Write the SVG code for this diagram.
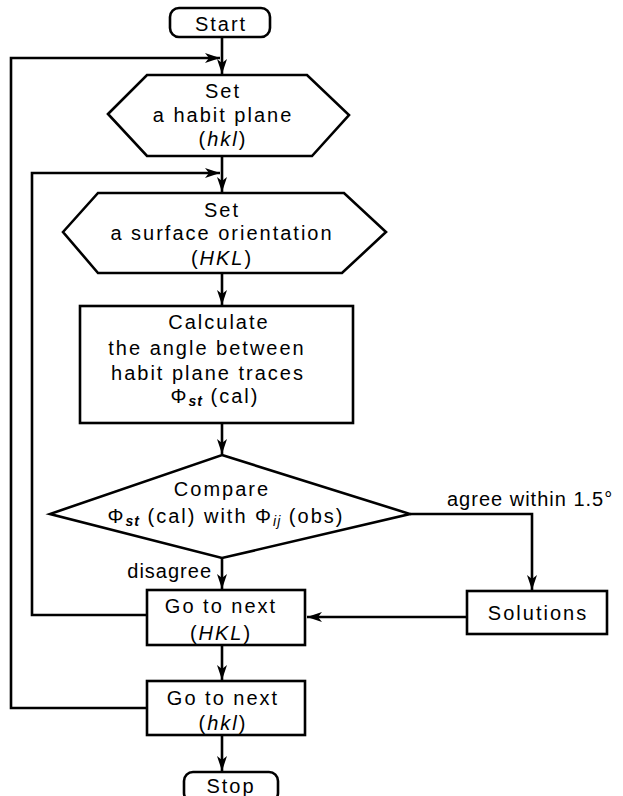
<svg xmlns="http://www.w3.org/2000/svg" width="623" height="796" viewBox="0 0 623 796">
<defs>
<style>
.s{fill:none;stroke:#000;stroke-width:2.6;stroke-linejoin:miter}
.n{fill:#fff;stroke:#000;stroke-width:2.6}
text{font-family:"Liberation Sans",Arial,sans-serif;font-size:20px;fill:#000;letter-spacing:2px;text-anchor:middle}
.i{font-style:italic}
.sub{font-size:14px;font-style:italic;font-weight:bold;letter-spacing:1px}
.subi{font-size:14px;font-style:italic;letter-spacing:1px}
.l{text-anchor:start;letter-spacing:1px}
.e{text-anchor:end;letter-spacing:1px}
</style>
<marker id="a" markerUnits="userSpaceOnUse" markerWidth="16" markerHeight="12" refX="15" refY="5" orient="auto" viewBox="0 0 16 10">
<path d="M0,0 L15,5 L0,10 L4,5 Z" fill="#000"/>
</marker>
</defs>
<rect width="623" height="796" fill="#fff"/>
<g id="connectors">
<path class="s" d="M222,37 V74" marker-end="url(#a)"/>
<path class="s" d="M222,157 V192" marker-end="url(#a)"/>
<path class="s" d="M222,273 V305" marker-end="url(#a)"/>
<path class="s" d="M222,423 V454" marker-end="url(#a)"/>
<path class="s" d="M222,558 V589" marker-end="url(#a)"/>
<path class="s" d="M222,645 V680" marker-end="url(#a)"/>
<path class="s" d="M222,735 V771" marker-end="url(#a)"/>
<path class="s" d="M410,514 H532 V590" marker-end="url(#a)"/>
<path class="s" d="M467,617 H307" marker-end="url(#a)"/>
<path class="s" d="M147,615 H32 V173 H220" marker-end="url(#a)"/>
<path class="s" d="M147,708 H11 V58 H220" marker-end="url(#a)"/>
<text class="l" x="447" y="506">agree within 1.5°</text>
<text class="e" x="212" y="578">disagree</text>
</g>
<g id="start">
<rect class="n" x="170" y="8" width="100" height="29" rx="9"/>
<text x="221" y="31">Start</text>
</g>
<g id="set-habit-plane">
<polygon class="n" points="108,114 147,75 307,75 349,115 312,156 147,156"/>
<text x="223" y="98">Set</text>
<text x="223" y="122">a habit plane</text>
<text x="223" y="146">(<tspan class="i">hkl</tspan>)</text>
</g>
<g id="set-surface-orientation">
<polygon class="n" points="63,232 98,193 344,193 386,232 342,273 98,273"/>
<text x="222" y="217">Set</text>
<text x="222" y="240">a surface orientation</text>
<text x="222" y="265">(<tspan class="i">HKL</tspan>)</text>
</g>
<g id="calculate">
<rect class="n" x="80" y="306" width="273" height="117"/>
<text x="219" y="329">Calculate</text>
<text x="207" y="355">the angle between</text>
<text x="208" y="380">habit plane traces</text>
<text x="215" y="403">Φ<tspan class="sub" dy="3">st</tspan><tspan dy="-3"> (cal)</tspan></text>
</g>
<g id="compare">
<polygon class="n" points="222,455 410,514 222,558 50,514"/>
<text x="222" y="496">Compare</text>
<text x="226" y="523">Φ<tspan class="sub" dy="3">st</tspan><tspan dy="-3"> (cal) with Φ</tspan><tspan class="subi" dy="3">ij</tspan><tspan dy="-3"> (obs)</tspan></text>
</g>
<g id="next-HKL">
<rect class="n" x="147" y="590" width="158" height="55"/>
<text x="221" y="613">Go to next</text>
<text x="221" y="640">(<tspan class="i">HKL</tspan>)</text>
</g>
<g id="solutions">
<rect class="n" x="467" y="591" width="140" height="43"/>
<text x="538" y="620">Solutions</text>
</g>
<g id="next-hkl">
<rect class="n" x="147" y="681" width="158" height="54"/>
<text x="223" y="705">Go to next</text>
<text x="223" y="730">(<tspan class="i">hkl</tspan>)</text>
</g>
<g id="stop">
<rect class="n" x="184" y="772" width="94" height="30" rx="9"/>
<text x="231" y="793">Stop</text>
</g>
</svg>
